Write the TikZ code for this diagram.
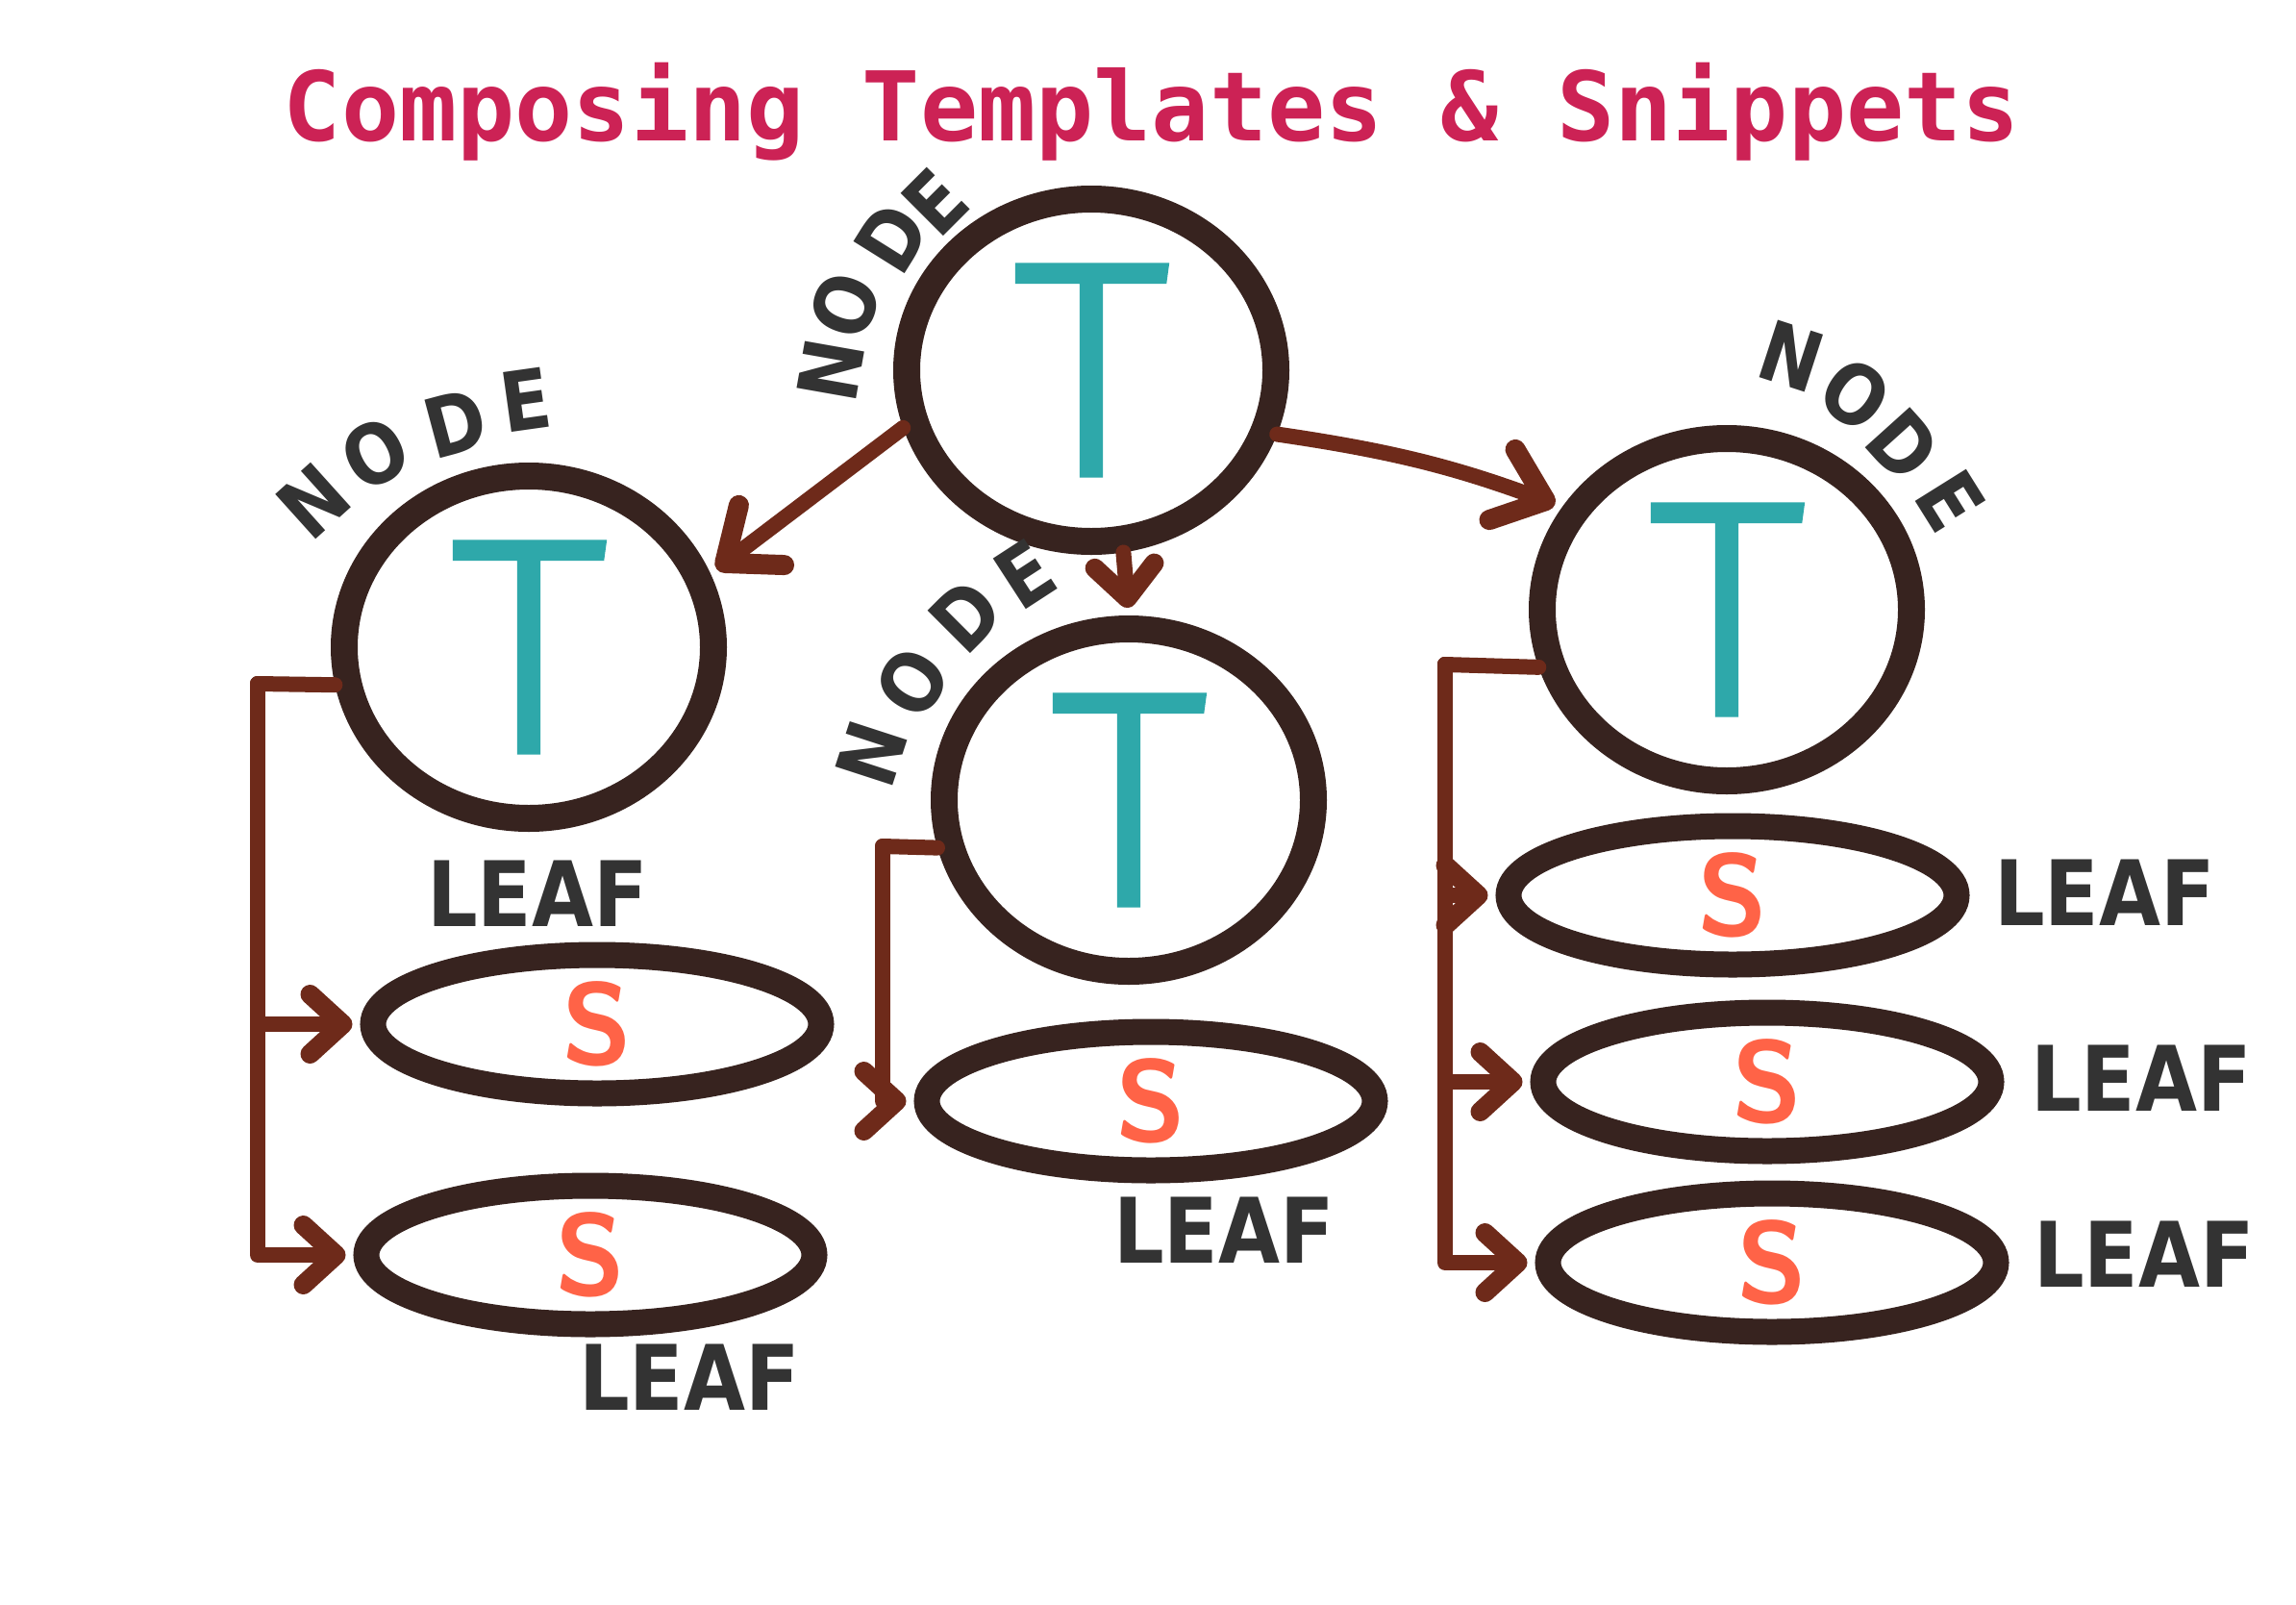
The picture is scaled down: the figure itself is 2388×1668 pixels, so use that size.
\documentclass[tikz,border=0pt]{standalone}
\usepackage{fontspec}
\usepackage{graphicx}
\usetikzlibrary{shapes.geometric,arrows.meta}
\newfontfamily\titlefont{DejaVu Sans Mono}
\newfontfamily\lblfont{DejaVu Sans}
\newfontfamily\tfont{Fira Sans Light}[FakeBold=1.5]
\definecolor{ringc}{RGB}{55,35,31}
\definecolor{connc}{RGB}{110,42,26}
\definecolor{tealc}{RGB}{46,168,170}
\definecolor{orangec}{RGB}{255,99,71}
\definecolor{grayc}{RGB}{51,51,51}
\definecolor{titlec}{RGB}{204,34,85}
\newcommand{\tletter}{\scalebox{1.5}[1.45]{T}}
\newcommand{\lbltext}[1]{\scalebox{0.88}[1]{#1}}
\begin{document}
\begin{tikzpicture}[x=1pt,y=-1pt,
  tnode/.style={ellipse,draw=ringc,line width=28pt,minimum width=384pt,minimum height=356pt,inner sep=0pt,text=tealc,font=\fontsize{220}{220}\selectfont\tfont},
  leafnode/.style={ellipse,draw=ringc,line width=27pt,minimum width=466pt,minimum height=144pt,inner sep=0pt,text=orangec,font=\fontsize{120}{120}\selectfont\sffamily\bfseries},
  lbl/.style={text=grayc,font=\fontsize{94}{94}\selectfont\lblfont\bfseries,inner sep=0pt},
  nlbl/.style={lbl,font=\fontsize{86}{86}\selectfont\lblfont\bfseries},
  conn/.style={draw=connc,line width=16pt,line cap=round,line join=round},
  arr/.style={-{Straight Barb[length=34pt,width=62pt,line width=20pt,round]},shorten >=8pt},
  arrbig/.style={-{Straight Barb[length=48pt,width=78pt,line width=21pt,round]},shorten >=8pt},
]
\fill[white] (0,0) rectangle (2388,1668);
\useasboundingbox (0,0) rectangle (2388,1668);

% title
\node[anchor=base,text=titlec,inner sep=0pt,font=\fontsize{100}{100}\selectfont\titlefont\bfseries] (title) at (1198,146) {Composing Templates \& Snippets};

% template nodes
\node[tnode] (topT) at (1135,385) {\tletter};
\node[tnode] (leftT) at (550,673) {\tletter};
\node[tnode] (midT) at (1174,832) {\tletter};
\node[tnode] (rightT) at (1796,634) {\tletter};

% leaves
\node[leafnode] (l1) at (621,1065) {S};
\node[leafnode] (l2) at (614,1305) {S};
\node[leafnode] (m1) at (1197,1145) {S};
\node[leafnode] (r1) at (1802,931) {S};
\node[leafnode] (r2) at (1838,1125) {S};
\node[leafnode] (r3) at (1843,1313) {S};

% NODE labels
\node[nlbl,rotate=80] (tN) at (864,385) {\lbltext{N}};
\node[nlbl,rotate=70] (tO) at (879,318) {\lbltext{O}};
\node[nlbl,rotate=58] (tD) at (928,247) {\lbltext{D}};
\node[nlbl,rotate=45] (tE) at (973,210) {\lbltext{E}};

\node[nlbl,rotate=42] (lN) at (326,521) {\lbltext{N}};
\node[nlbl,rotate=28] (lO) at (390,472) {\lbltext{O}};
\node[nlbl,rotate=15] (lD) at (474,440) {\lbltext{D}};
\node[nlbl,rotate=8] (lE) at (547,416) {\lbltext{E}};

\node[nlbl,rotate=72] (mN) at (906,784) {\lbltext{N}};
\node[nlbl,rotate=58] (mO) at (949,710) {\lbltext{O}};
\node[nlbl,rotate=45] (mD) at (1005,640) {\lbltext{D}};
\node[nlbl,rotate=33] (mE) at (1066,597) {\lbltext{E}};

\node[nlbl,rotate=-18] (rN) at (1863,370) {\lbltext{N}};
\node[nlbl,rotate=-35] (rO) at (1930,410) {\lbltext{O}};
\node[nlbl,rotate=-48] (rD) at (1980,463) {\lbltext{D}};
\node[nlbl,rotate=-58] (rE) at (2029,521) {\lbltext{E}};

% LEAF labels
\node[lbl] (l1lab) at (559,929) {\lbltext{LEAF}};
\node[lbl] (l2lab) at (717,1432) {\lbltext{LEAF}};
\node[lbl] (m1lab) at (1273,1279) {\lbltext{LEAF}};
\node[lbl] (r1lab) at (2189,928) {\lbltext{LEAF}};
\node[lbl] (r2lab) at (2227,1121) {\lbltext{LEAF}};
\node[lbl] (r3lab) at (2230,1304) {\lbltext{LEAF}};

% connectors between templates
\draw[conn,arrbig] (topT.197) -- (leftT.22);
\draw[conn,arrbig] (topT.-19) to[bend left=6] (rightT.148);
\draw[conn,arr] (topT.-80) -- (midT.north);

% buses to leaves
\coordinate (lbus) at (268,711);
\coordinate (mbus) at (918,880);
\coordinate (rbus) at (1503,691);

\draw[conn] (leftT.191) -- (lbus);
\draw[conn,arr] (lbus) |- (l1.west);
\draw[conn,arr] (lbus) |- (l2.west);

\draw[conn] (midT.194) -- (mbus);
\draw[conn,arr] (mbus) |- (m1.west);

\draw[conn] (rightT.197) -- (rbus);
\draw[conn,arr] (rbus) |- (r1.west);
\draw[conn,arr] (rbus) |- (r2.west);
\draw[conn,arr] (rbus) |- (r3.west);
\end{tikzpicture}
\end{document}
